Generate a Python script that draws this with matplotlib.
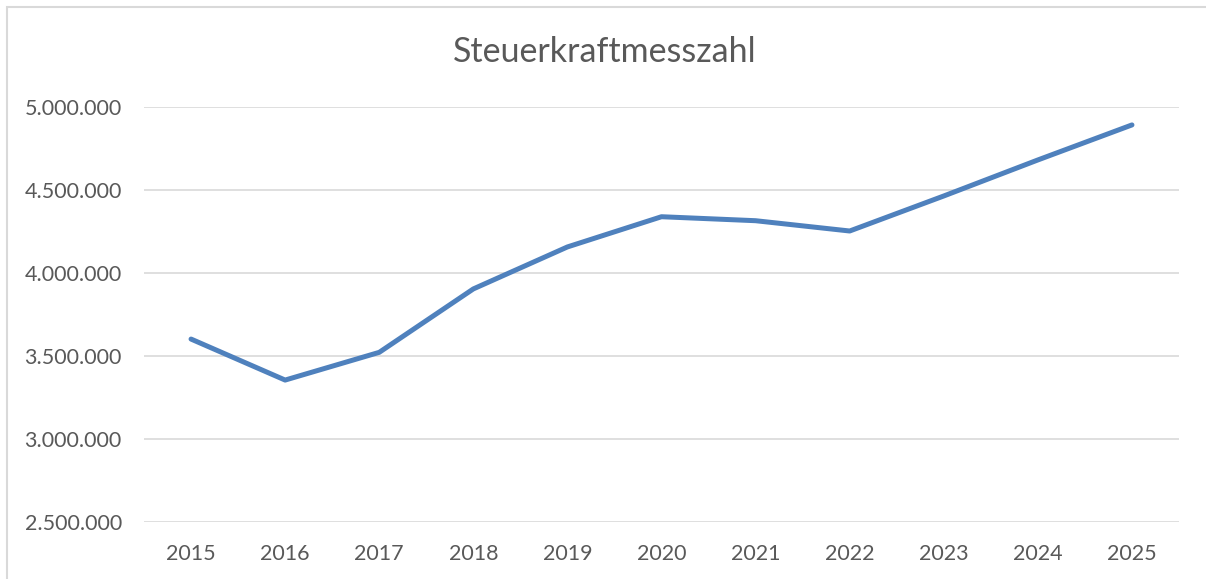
import matplotlib
matplotlib.use("Agg")
import matplotlib.pyplot as plt
from matplotlib.patches import Rectangle
from matplotlib.ticker import FuncFormatter

years = ["2015", "2016", "2017", "2018", "2019", "2020", "2021", "2022", "2023", "2024", "2025"]
values = [3602000, 3355000, 3522000, 3904000, 4157000, 4339000, 4315000, 4253000, 4464000, 4681000, 4892000]
yticks = [2500000, 3000000, 3500000, 4000000, 4500000, 5000000]
title = "Steuerkraftmesszahl"

plt.rcParams['font.family'] = ['Lato', 'DejaVu Sans']
W, H = 1206, 579
fig = plt.figure(figsize=(W / 100, H / 100), dpi=100)
fig.patch.set_facecolor("white")

# chart area border (cropped at right/bottom)
fig.patches.append(Rectangle((7 / W, -0.1), 1.2, 1.1 - 7 / H, transform=fig.transFigure,
                             fill=False, edgecolor="#D9D9D9", linewidth=1.5))

ax = fig.add_axes([144 / W, 1 - 522 / H, (1179 - 144) / W, (522 - 107) / H])
x = list(range(len(years)))
ax.plot(x, values, color="#4F81BD", linewidth=3.6, solid_capstyle="round", solid_joinstyle="round", zorder=3)

ax.set_xlim(-0.5, len(years) - 0.5)
ax.set_ylim(yticks[0], yticks[-1])
ax.set_yticks(yticks)
ax.yaxis.set_major_formatter(FuncFormatter(lambda v, p: f"{int(v):,}".replace(",", ".")))
ax.set_xticks(x)
ax.set_xticklabels(years)
ax.grid(axis="y", color="#D9D9D9", linewidth=1.2)
ax.set_axisbelow(True)
for s in ax.spines.values():
    s.set_visible(False)
ax.tick_params(axis="both", length=0, labelsize=15.5, labelcolor="#595959")
ax.tick_params(axis="y", pad=16)
ax.tick_params(axis="x", pad=16)

fig.text(605 / W, 1 - 52 / H, title, ha="center", va="center", fontsize=24.5, color="#595959")

fig.savefig("out.png", dpi=100)
